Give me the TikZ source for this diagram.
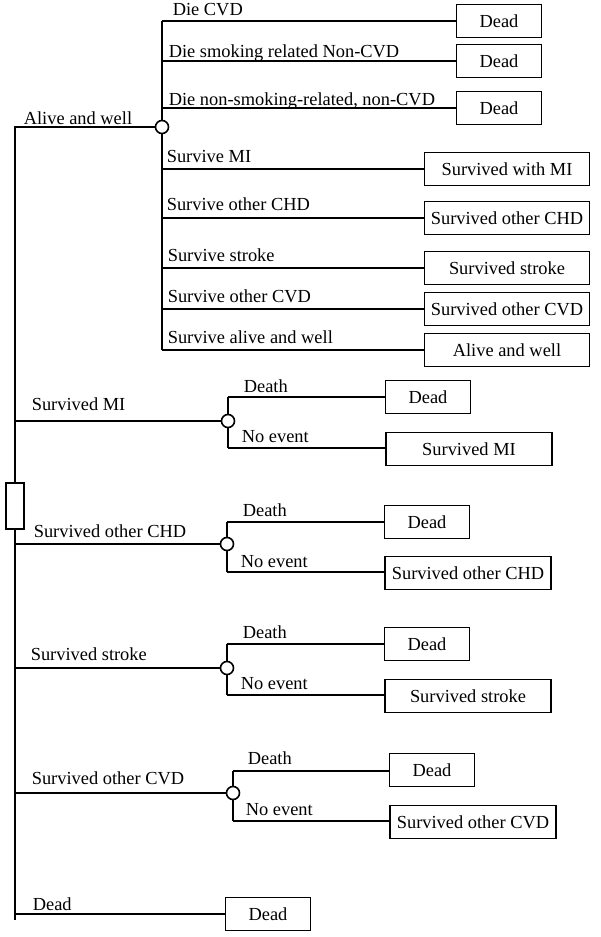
\documentclass[tikz,border=0pt]{standalone}
\usepackage{fontspec}
\setmainfont{Liberation Serif}
\usepackage{tikz}
\usetikzlibrary{shapes,positioning}
\tikzstyle{block} = [draw, rectangle, minimum height=16.5pt, minimum width=42.5pt, inner sep=0]
\tikzstyle{wide} = [block, minimum width=82.5pt]
\tikzstyle{chance} = [draw, circle, fill=white, minimum size=6.5pt, inner sep=0]
\tikzstyle{markov} = [draw, rectangle, fill=white, minimum width=9pt, minimum height=23pt, inner sep=0]
\tikzstyle{branch} = [anchor=base west, inner sep=0]
\tikzstyle{joint} = [coordinate]

\begin{document}
\begin{tikzpicture}[x=0.5pt, y=-0.5pt, line width=0.8pt, font=\fontsize{9.2}{11}\selectfont]
	  \useasboundingbox (0,0) rectangle (600,937);
	  % first cycle: alive and well
	  \node [markov] (mk) at (15,506) {};
	  \node [chance] (aw) at (162,127) {};
	  \node [joint] (aw1) at (162,21) {};
	  \node [joint] (aw8) at (162,350) {};
	  \node [block] (dcvd) at (499,21) {Dead};
	  \node [block] (dsmk) at (499,61) {Dead};
	  \node [block] (dnon) at (499,108) {Dead};
	  \node [wide] (swmi) at (507,169) {Survived with MI};
	  \node [wide] (schd) at (507,218) {Survived other CHD};
	  \node [wide] (sstr) at (507,268) {Survived stroke};
	  \node [wide] (scvd) at (507,309) {Survived other CVD};
	  \node [wide] (saw) at (507,350) {Alive and well};
	
	  \draw [-] (aw.west) -| (mk.north);
	  \draw [-] (aw1) -- (aw.north);
	  \draw [-] (aw.south) -- (aw8);
	  \draw [-] (aw1) -- (dcvd);
	  \draw [-] (aw1 |- dsmk) -- (dsmk);
	  \draw [-] (aw1 |- dnon) -- (dnon);
	  \draw [-] (aw1 |- swmi) -- (swmi);
	  \draw [-] (aw1 |- schd) -- (schd);
	  \draw [-] (aw1 |- sstr) -- (sstr);
	  \draw [-] (aw1 |- scvd) -- (scvd);
	  \draw [-] (aw8) -- (saw);
	
	  \node [branch] (talive) at (23,124) {Alive and well};
	  \node [branch] (tcvd) at (172,16) {Die CVD};
	  \node [branch] (tsmk) at (168,57) {Die smoking related Non-CVD};
	  \node [branch] (tnon) at (168,105) {Die non-smoking-related, non-CVD};
	  \node [branch] (tsmi) at (166,162) {Survive MI};
	  \node [branch] (tschd) at (166,210) {Survive other CHD};
	  \node [branch] (tsstr) at (167,261) {Survive stroke};
	  \node [branch] (tscvd) at (167,302) {Survive other CVD};
	  \node [branch] (tsaw) at (167,343) {Survive alive and well};
	
	  % survived MI
	  \node [joint] (jmi) at (15,421) {};
	  \node [chance] (cmi) at (228,421) {};
	  \node [joint] (mi1) at (228,397) {};
	  \node [joint] (mi2) at (228,448) {};
	  \node [block] (miDead) at (428,397) {Dead};
	  \node [wide, minimum width=83pt] (miLive) at (469,449) {Survived MI};
	  \draw [-] (jmi) -- (cmi);
	  \draw [-] (mi1) -- (cmi.north);
	  \draw [-] (cmi.south) -- (mi2);
	  \draw [-] (mi1) -- (miDead);
	  \draw [-] (mi2) -- (miLive.west |- mi2);
	  \node [branch] (tmi) at (31,410) {Survived MI};
	  \node [branch] (tmid) at (243,392) {Death};
	  \node [branch] (tmin) at (241,442) {No event};
	
	  % survived other CHD
	  \node [joint] (jchd) at (15,544) {};
	  \node [chance] (cchd) at (227,544) {};
	  \node [joint] (chd1) at (227,522) {};
	  \node [joint] (chd2) at (227,572) {};
	  \node [block] (chdDead) at (427,522) {Dead};
	  \node [wide, minimum width=83pt] (chdLive) at (468,573) {Survived other CHD};
	  \draw [-] (jchd) -- (cchd);
	  \draw [-] (chd1) -- (cchd.north);
	  \draw [-] (cchd.south) -- (chd2);
	  \draw [-] (chd1) -- (chdDead);
	  \draw [-] (chd2) -- (chdLive.west |- chd2);
	  \node [branch] (tchd) at (33,537) {Survived other CHD};
	  \node [branch] (tchdd) at (242,516) {Death};
	  \node [branch] (tchdn) at (240,567) {No event};
	
	  % survived stroke
	  \node [joint] (jstr) at (15,668) {};
	  \node [chance] (cstr) at (227,668) {};
	  \node [joint] (str1) at (227,644) {};
	  \node [joint] (str2) at (227,695) {};
	  \node [block] (strDead) at (427,644) {Dead};
	  \node [wide, minimum width=83pt] (strLive) at (468,696) {Survived stroke};
	  \draw [-] (jstr) -- (cstr);
	  \draw [-] (str1) -- (cstr.north);
	  \draw [-] (cstr.south) -- (str2);
	  \draw [-] (str1) -- (strDead);
	  \draw [-] (str2) -- (strLive.west |- str2);
	  \node [branch] (tstr) at (30,660) {Survived stroke};
	  \node [branch] (tstrd) at (242,638) {Death};
	  \node [branch] (tstrn) at (240,689) {No event};
	
	  % survived other CVD
	  \node [joint] (jcvd) at (15,793) {};
	  \node [chance] (ccvd) at (233,793) {};
	  \node [joint] (cvd1) at (233,771) {};
	  \node [joint] (cvd2) at (233,821) {};
	  \node [block] (cvdDead) at (432,770) {Dead};
	  \node [wide, minimum width=83pt] (cvdLive) at (473,822) {Survived other CVD};
	  \draw [-] (jcvd) -- (ccvd);
	  \draw [-] (cvd1) -- (ccvd.north);
	  \draw [-] (ccvd.south) -- (cvd2);
	  \draw [-] (cvd1) -- (cvdDead.west |- cvd1);
	  \draw [-] (cvd2) -- (cvdLive.west |- cvd2);
	  \node [branch] (tcvdb) at (31,784) {Survived other CVD};
	  \node [branch] (tcvdd) at (247,764) {Death};
	  \node [branch] (tcvdn) at (245,815) {No event};
	
	  % dead
	  \node [joint] (jend) at (15,920) {};
	  \node [block] (deadbox) at (268,914) {Dead};
	  \draw [-] (mk.south) -- (jend);
	  \draw [-] (mk.south |- deadbox) -- (deadbox);
	  \node [branch] (tdead) at (32,910) {Dead};
	\end{tikzpicture}
\end{document}
